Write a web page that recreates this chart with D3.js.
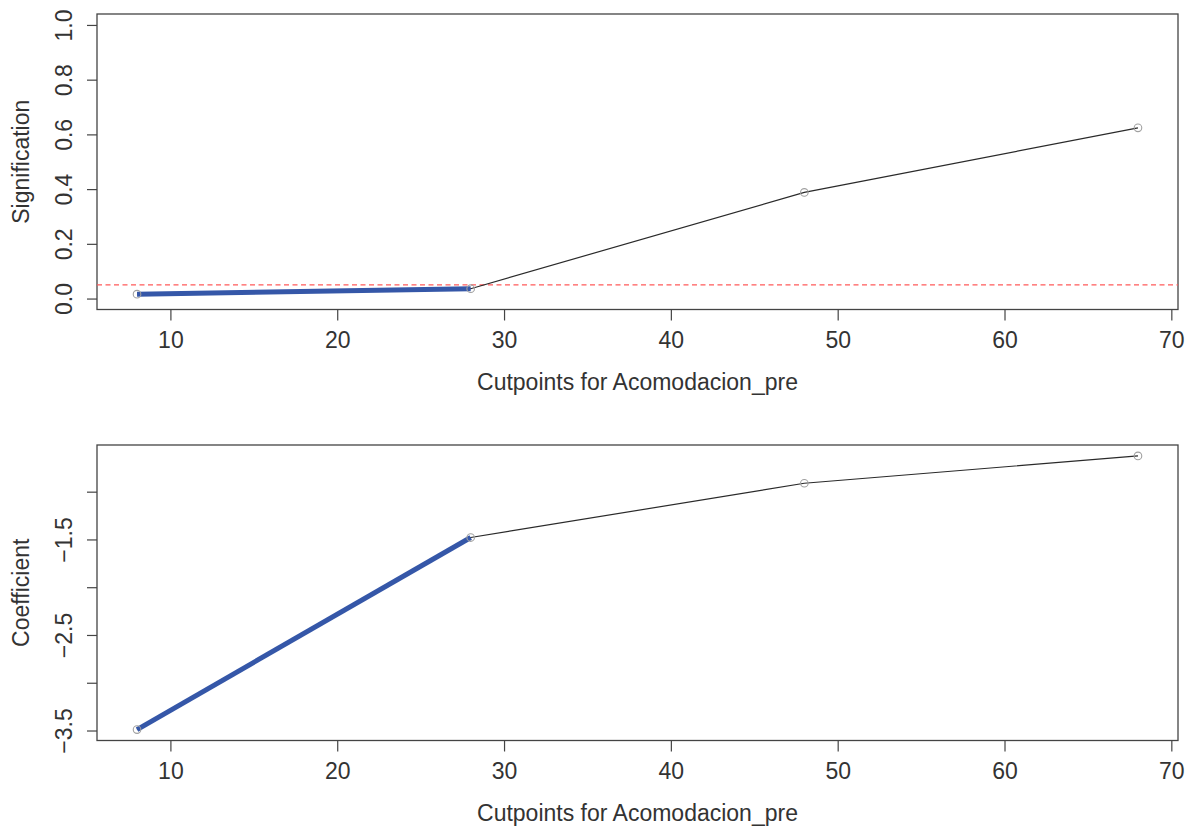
<!DOCTYPE html>
<html><head><meta charset="utf-8">
<script src="https://cdn.jsdelivr.net/npm/d3@7"></script>
<style>body{margin:0;background:#fff}svg{display:block}text{font-family:"Liberation Sans",Arial,sans-serif;fill:#333}</style>
</head><body>
<svg id="c" width="1198" height="827"></svg>
<script>
const cutpoints = [8, 28, 48, 68];
const signification = [0.016, 0.036, 0.388, 0.624];
const coefficient = [-3.49, -1.48, -0.912, -0.626];
const sigTicks = [0, 0.2, 0.4, 0.6, 0.8, 1.0];
const coefTicks = [-3.5, -3, -2.5, -2, -1.5, -1];
const coefTickLabels = ["\u22123.5", "", "\u22122.5", "", "\u22121.5", ""];
const xTicks = [10, 20, 30, 40, 50, 60, 70];
const threshold = 0.05;
const xLabel = "Cutpoints for Acomodacion_pre";

const svg = d3.select("#c");
const L = 97, R = 1178;
const FS = 23;
const ext = (a, b) => { const r = b - a; return [a - 0.04 * r, b + 0.04 * r]; };
const x = d3.scaleLinear().domain(ext(d3.min(cutpoints), d3.max(cutpoints))).range([L, R]);

function panel(top, bottom, values, yDomain, yTicks, yTickFmt, ylab, hiCount, refLine) {
  const y = d3.scaleLinear().domain(yDomain).range([bottom, top]);
  const g = svg.append("g");
  // x axis
  const xa = g.append("g").attr("transform", `translate(0,${bottom})`)
    .call(d3.axisBottom(x).tickValues(xTicks).tickSize(11).tickPadding(11).tickFormat(d3.format("d")));
  xa.select(".domain").remove();
  xa.selectAll("line").attr("stroke", "#444").attr("stroke-width", 1.2);
  xa.selectAll("text").attr("font-size", FS).attr("fill", "#333");
  // y axis
  const ya = g.append("g").attr("transform", `translate(${L},0)`)
    .call(d3.axisLeft(y).tickValues(yTicks).tickSize(10).tickFormat(yTickFmt));
  ya.select(".domain").remove();
  ya.selectAll("line").attr("stroke", "#444").attr("stroke-width", 1.2);
  ya.selectAll("text").attr("font-size", FS).attr("fill", "#333")
    .attr("text-anchor", "middle").attr("x", 0).attr("dy", 0)
    .attr("transform", "translate(-25,0) rotate(-90)");
  // box
  g.append("rect").attr("x", L).attr("y", top).attr("width", R - L).attr("height", bottom - top)
    .attr("fill", "none").attr("stroke", "#444").attr("stroke-width", 1.3);
  // ref line
  if (refLine !== null) {
    g.append("line").attr("x1", L).attr("x2", R).attr("y1", y(refLine)).attr("y2", y(refLine))
      .attr("stroke", "#ff5a5a").attr("stroke-width", 1.3).attr("stroke-dasharray", "5,3.5");
  }
  const pts = cutpoints.map((c, i) => [c, values[i]]);
  const line = d3.line().x(d => x(d[0])).y(d => y(d[1]));
  g.append("path").datum(pts).attr("d", line).attr("fill", "none").attr("stroke", "#2a2a2a").attr("stroke-width", 1.2);
  g.append("path").datum(pts.slice(0, hiCount)).attr("d", line).attr("fill", "none")
    .attr("stroke", "#3557a8").attr("stroke-width", 5);
  g.selectAll("circle.p").data(pts).enter().append("circle")
    .attr("cx", d => x(d[0])).attr("cy", d => y(d[1])).attr("r", 3.8)
    .attr("fill", "none").attr("stroke", "#a0a0a0").attr("stroke-width", 1.1);
  // labels
  g.append("text").attr("x", (L + R) / 2).attr("y", bottom + 80).attr("text-anchor", "middle")
    .attr("font-size", FS).text(xLabel);
  g.append("text").attr("transform", `translate(29,${(top + bottom) / 2}) rotate(-90)`)
    .attr("text-anchor", "middle").attr("font-size", FS).text(ylab);
}

panel(14, 309.5, signification, ext(0, 1), sigTicks, d3.format(".1f"), "Signification", 2, threshold);
panel(445, 740.5, coefficient, ext(d3.min(coefficient), d3.max(coefficient)), coefTicks,
  (d, i) => coefTickLabels[i], "Coefficient", 2, null);
</script>
</body></html>
